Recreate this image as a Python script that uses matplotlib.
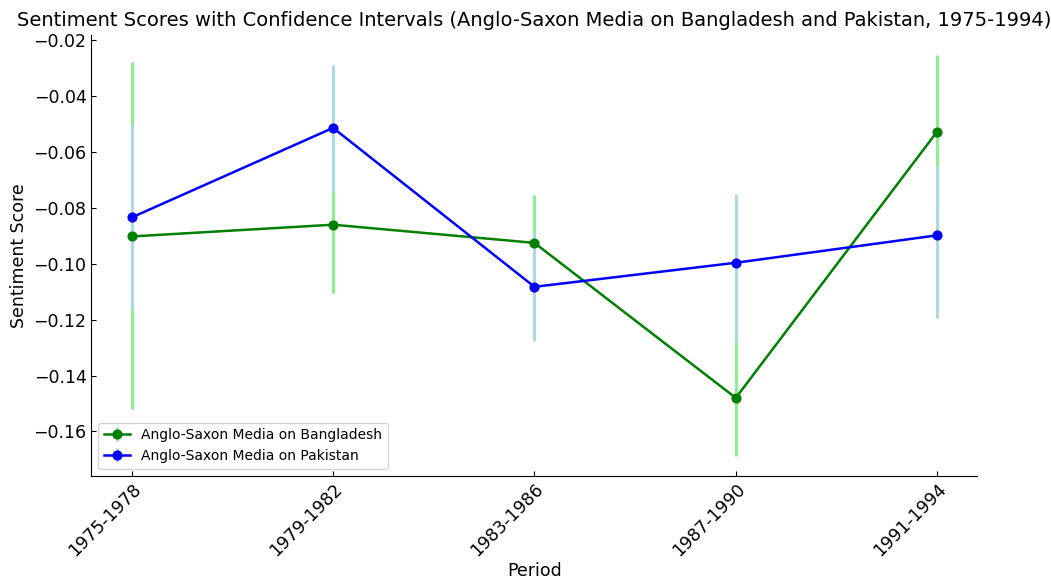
import numpy as np
import matplotlib
matplotlib.use("Agg")
import matplotlib.pyplot as plt

# sentiment means and confidence bounds per period
periods = ["1975-1978", "1979-1982", "1983-1986", "1987-1990", "1991-1994"]

bangladesh_mean = [-0.0903, -0.0861, -0.0926, -0.1480, -0.0528]
bangladesh_low = [-0.1519, -0.1105, -0.1098, -0.1686, -0.0802]
bangladesh_high = [-0.0278, -0.0617, -0.0754, -0.1274, -0.0254]

pakistan_mean = [-0.0835, -0.0515, -0.1083, -0.0997, -0.0899]
pakistan_low = [-0.1164, -0.0742, -0.1277, -0.1281, -0.1194]
pakistan_high = [-0.0504, -0.0289, -0.0889, -0.0750, -0.0650]

plt.rcParams["font.size"] = 12.5

fig, ax = plt.subplots(figsize=(10.51, 5.80), dpi=100)
x = np.arange(len(periods))

bd_err = [np.array(bangladesh_mean) - np.array(bangladesh_low),
          np.array(bangladesh_high) - np.array(bangladesh_mean)]
pk_err = [np.array(pakistan_mean) - np.array(pakistan_low),
          np.array(pakistan_high) - np.array(pakistan_mean)]

ax.errorbar(x, bangladesh_mean, yerr=bd_err, fmt='-o', color='green', ecolor='lightgreen',
            elinewidth=2.2, linewidth=1.8, markersize=6.3, capsize=0,
            label='Anglo-Saxon Media on Bangladesh')
ax.errorbar(x, pakistan_mean, yerr=pk_err, fmt='-o', color='blue', ecolor='lightblue',
            elinewidth=2.2, linewidth=1.8, markersize=6.3, capsize=0,
            label='Anglo-Saxon Media on Pakistan')

ax.set_xticks(x)
ax.set_xticklabels(periods, rotation=45, ha='right', rotation_mode='anchor')
ax.set_title("Sentiment Scores with Confidence Intervals (Anglo-Saxon Media on Bangladesh and Pakistan, 1975-1994)",
             fontsize=14)
ax.set_xlabel("Period", labelpad=1)
ax.set_ylabel("Sentiment Score")
ax.spines['top'].set_visible(False)
ax.spines['right'].set_visible(False)
ax.tick_params(direction='in')
ax.legend(loc='lower left', fontsize=10, handlelength=1.9)

fig.subplots_adjust(left=0.087, right=0.93, top=0.94, bottom=0.18)
fig.savefig("out.png", dpi=100)
